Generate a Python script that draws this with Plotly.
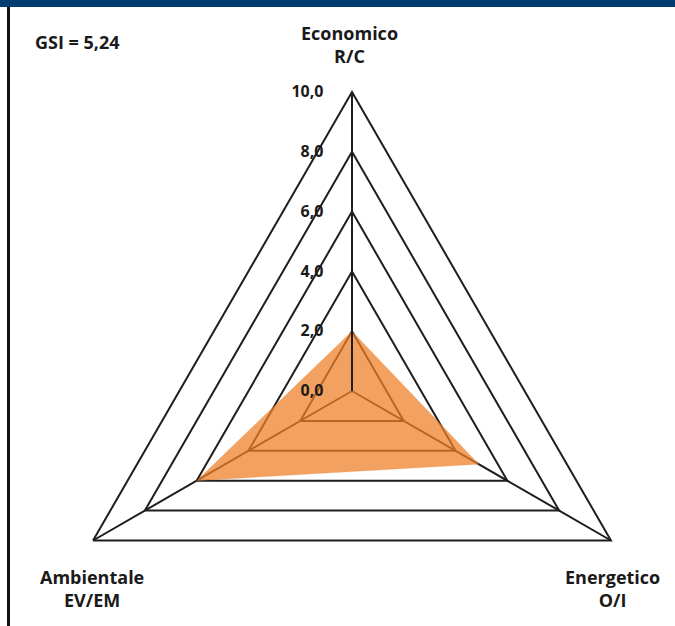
import plotly.graph_objects as go

# ---- data ----
categories = ["Economico", "Energetico", "Ambientale"]
axis_labels = ["Economico<br>R/C", "Energetico<br>O/I", "Ambientale<br>EV/EM"]
values = [2.0, 4.9, 6.0]
radial_ticks = [0, 2, 4, 6, 8, 10]
gsi_text = "GSI = 5,24"

W, H = 675, 700  # figure taller than window; bottom part is outside the view

def px_x(p):
    return p / W

def px_y(p):
    return 1 - p / H

FONT = "Open Sans"
TXT = "#1a1a1a"
GRID = "#1e1e1e"

fig = go.Figure()
fig.add_trace(go.Scatterpolar(
    r=values + values[:1],
    theta=categories + categories[:1],
    mode="lines",
    fill="toself",
    fillcolor="rgba(238,128,42,0.74)",
    line=dict(color="rgba(238,128,42,0.3)", width=0.5),
    hoverinfo="skip",
    showlegend=False,
))

cx, cy, R = 352, 391, 299
fig.update_layout(
    width=W, height=H,
    margin=dict(l=0, r=0, t=0, b=0),
    paper_bgcolor="white",
    separators=", ",
    polar=dict(
        domain=dict(x=[px_x(cx - R), px_x(cx + R)], y=[px_y(cy + R), px_y(cy - R)]),
        bgcolor="white",
        gridshape="linear",
        angularaxis=dict(
            type="category",
            categoryarray=categories,
            rotation=90,
            direction="clockwise",
            showline=True, linecolor=GRID, linewidth=2,
            showgrid=True, gridcolor=GRID, gridwidth=2,
            showticklabels=False, ticks="",
            layer="above traces",
        ),
        radialaxis=dict(
            range=[0, 10],
            tickvals=radial_ticks,
            tickformat=".1f",
            angle=90,
            tickangle=90,
            side="counterclockwise",
            showline=True, linecolor=GRID, linewidth=2,
            showgrid=True, gridcolor=GRID, gridwidth=2,
            ticks="outside", ticklen=22, tickcolor="rgba(0,0,0,0)",
            tickfont=dict(family=FONT, size=16, color=TXT, weight="bold"),
            layer="above traces",
        ),
    ),
    shapes=[
        dict(type="rect", xref="paper", yref="paper", x0=0, x1=1,
             y0=px_y(7), y1=1, fillcolor="#003B72", line=dict(width=0)),
        dict(type="line", xref="paper", yref="paper", x0=px_x(8.5), x1=px_x(8.5),
             y0=0, y1=px_y(7), line=dict(color="#111111", width=3)),
    ],
    annotations=[
        dict(text=gsi_text, xref="paper", yref="paper", x=px_x(33), y=px_y(42),
             xanchor="left", yanchor="middle", showarrow=False,
             font=dict(family=FONT, size=18, color=TXT, weight="bold")),
        dict(text=axis_labels[0], xref="paper", yref="paper", x=px_x(349), y=px_y(45),
             xanchor="center", yanchor="middle", showarrow=False,
             font=dict(family=FONT, size=18, color=TXT, weight="bold")),
        dict(text=axis_labels[1], xref="paper", yref="paper", x=px_x(612), y=px_y(588),
             xanchor="center", yanchor="middle", showarrow=False,
             font=dict(family=FONT, size=18, color=TXT, weight="bold")),
        dict(text=axis_labels[2], xref="paper", yref="paper", x=px_x(92), y=px_y(588),
             xanchor="center", yanchor="middle", showarrow=False,
             font=dict(family=FONT, size=18, color=TXT, weight="bold")),
    ],
)

fig.write_html("out.html", config={"displayModeBar": False},
               post_script="document.body.style.margin='0px';")
